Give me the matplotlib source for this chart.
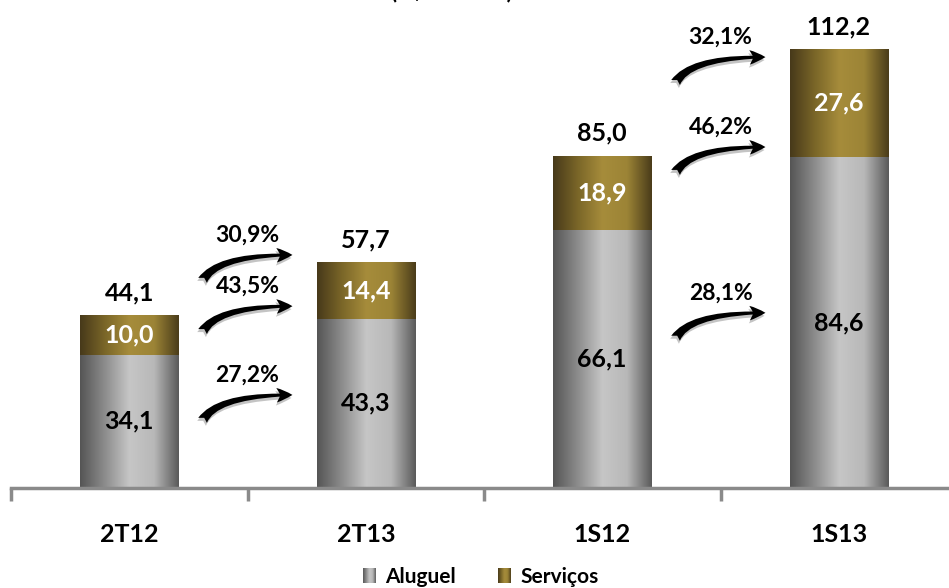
import numpy as np
import matplotlib
matplotlib.use("Agg")
import matplotlib.pyplot as plt
from matplotlib.colors import LinearSegmentedColormap
from matplotlib.patches import FancyArrowPatch, ArrowStyle
from matplotlib.transforms import ScaledTranslation

# Receita por período (R$ milhões)
categories = ["2T12", "2T13", "1S12", "1S13"]
aluguel = [34.1, 43.3, 66.1, 84.6]
servicos = [10.0, 14.4, 18.9, 27.6]
totals = [44.1, 57.7, 85.0, 112.2]

# Crescimento entre períodos: total, serviços, aluguel
growth_pairs = [0, 2]
growth_labels = [["30,9%", "43,5%", "27,2%"], ["32,1%", "46,2%", "28,1%"]]

# Altura da ponta de cada seta de crescimento (em unidades do eixo y)
arrow_levels = [[59.6, 46.5, 23.8], [110.2, 87.2, 44.8]]

WEIGHT = "bold"


def fmt(v):
    return f"{v:.1f}".replace(".", ",")


plt.rcParams["font.family"] = ["Lato", "DejaVu Sans"]

W, H = 949, 588
fig = plt.figure(figsize=(W / 100, H / 100), dpi=100)
ax = fig.add_axes([11 / W, 100 / H, 946 / W, 488 / H])
ax.set_xlim(-0.5, 3.5)
ax.set_ylim(0, 124.8)

gray_cmap = LinearSegmentedColormap.from_list(
    "g", ["#555555", "#8c8c8c", "#c6c6c6", "#b8b8b8", "#5a5a5a"])
gold_cmap = LinearSegmentedColormap.from_list(
    "o", ["#47391a", "#7a6628", "#a68c3b", "#9c8436", "#4a3c1a"])
grad = np.linspace(0, 1, 256).reshape(1, -1)

bw = 0.415


def grad_bar(x, bottom, height, cmap):
    ax.imshow(grad, extent=[x - bw / 2, x + bw / 2, bottom, bottom + height],
              aspect="auto", cmap=cmap, zorder=2, interpolation="bicubic")


xs = np.arange(len(categories))
for i, x in enumerate(xs):
    grad_bar(x, 0, aluguel[i], gray_cmap)
    grad_bar(x, aluguel[i], servicos[i], gold_cmap)
    ax.text(x, aluguel[i] / 2, fmt(aluguel[i]), ha="center", va="center",
            fontsize=18, fontweight=WEIGHT, color="black", zorder=3)
    ax.text(x, aluguel[i] + servicos[i] / 2, fmt(servicos[i]), ha="center",
            va="center", fontsize=18, fontweight=WEIGHT, color="white", zorder=3)
    ax.annotate(fmt(totals[i]), (x, totals[i]), xytext=(0, 8),
                textcoords="offset points", ha="center", va="bottom",
                fontsize=18, fontweight=WEIGHT, color="black")

ax.set_xlim(-0.5, 3.5)
ax.set_ylim(0, 124.8)

# Setas curvas de crescimento
style = ArrowStyle.Fancy(head_length=0.6, head_width=0.55, tail_width=0.38)
shadow_tr = ax.transData + ScaledTranslation(-1 / 100, -3 / 100, fig.dpi_scale_trans)
for k, i in enumerate(growth_pairs):
    for lab, tip in zip(growth_labels[k], arrow_levels[k]):
        tail = (i + 0.31, tip - 6.5)
        head = (i + 0.69, tip)
        for tr, col, z in [(shadow_tr, "#c4c4c4", 3), (ax.transData, "black", 4)]:
            arr = FancyArrowPatch(tail, head, transform=tr,
                                  connectionstyle="angle3,angleA=60,angleB=0",
                                  arrowstyle=style, mutation_scale=19,
                                  color=col, lw=0, shrinkA=0, shrinkB=0,
                                  zorder=z)
            ax.add_patch(arr)
        ax.text(i + 0.5, tip + 5.0, lab, ha="center", va="center",
                fontsize=16.5, fontweight=WEIGHT, color="black", zorder=5)

# Eixo x
for s in ["left", "right", "top"]:
    ax.spines[s].set_visible(False)
ax.spines["bottom"].set_color("#8a8a8a")
ax.spines["bottom"].set_linewidth(2.5)
ax.set_yticks([])
ax.set_xticks(xs)
ax.set_xticklabels(categories, fontsize=18, fontweight=WEIGHT)
ax.tick_params(axis="x", which="major", length=0, pad=25)
ax.set_xticks(np.arange(-0.5, 4.0, 1.0), minor=True)
ax.tick_params(axis="x", which="minor", length=9, width=2.5, color="#8a8a8a",
               direction="out")

# Título
fig.text(452 / W, 1.0 + 2 / H, "(R$ milhões)", ha="center", va="baseline",
         fontsize=16, fontweight=WEIGHT)

# Legenda
def legend_swatch(x0, cmap):
    lax = fig.add_axes([x0 / W, 5 / H, 13 / W, 15 / H])
    lax.imshow(grad, aspect="auto", cmap=cmap, interpolation="bicubic")
    lax.axis("off")


legend_swatch(363, gray_cmap)
fig.text(385 / W, 5 / H, "Aluguel", ha="left", va="baseline",
         fontsize=15, fontweight=WEIGHT)
legend_swatch(498, gold_cmap)
fig.text(520 / W, 5 / H, "Serviços", ha="left", va="baseline",
         fontsize=15, fontweight=WEIGHT)

fig.savefig("out.png", dpi=100)
